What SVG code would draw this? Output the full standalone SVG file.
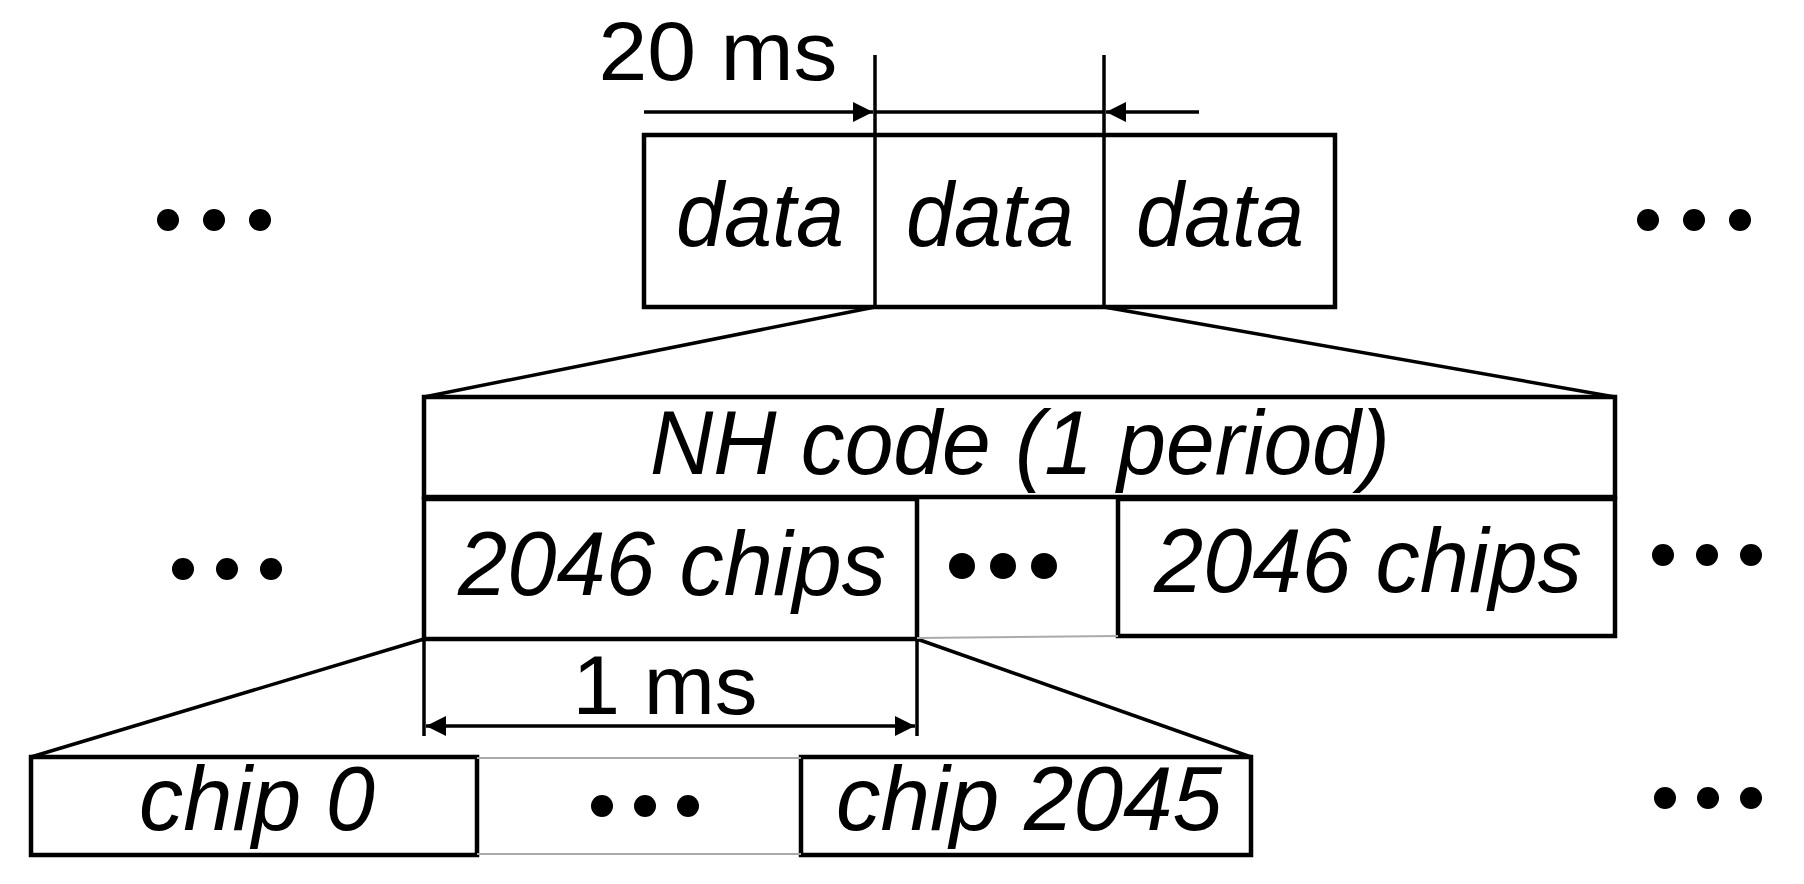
<svg xmlns="http://www.w3.org/2000/svg" width="1804" height="884" viewBox="0 0 1804 884">
<style>
.b{fill:none;stroke:#000;stroke-width:4.5}
.l{stroke:#000;stroke-width:3.5;fill:none}
.g{stroke:#aaa;stroke-width:2}
text{font-family:"Liberation Sans",Arial,sans-serif;font-style:italic;font-size:90px;text-anchor:middle;fill:#000}
.n{font-style:normal;font-size:84px}
.d{fill:#000}
</style>
<defs>
<marker id="a" viewBox="0 0 10 10" refX="10" refY="5" markerWidth="24" markerHeight="20" markerUnits="userSpaceOnUse" orient="auto-start-reverse"><path d="M0,0L10,5L0,10z" fill="#000"/></marker>
</defs>
<rect width="1804" height="884" fill="#fff"/>
<g id="data-row">
<rect class="b" x="644" y="135" width="691" height="172"/>
<line class="l" x1="875" y1="55" x2="875" y2="307"/>
<line class="l" x1="1104" y1="55" x2="1104" y2="307"/>
<text x="760" y="246" textLength="168" lengthAdjust="spacingAndGlyphs">data</text>
<text x="990" y="246" textLength="168" lengthAdjust="spacingAndGlyphs">data</text>
<text x="1220" y="246" textLength="168" lengthAdjust="spacingAndGlyphs">data</text>
</g>
<g id="nh">
<rect class="b" x="424" y="397" width="1191" height="100"/>
<text x="1020" y="474" textLength="740" lengthAdjust="spacingAndGlyphs">NH code (1 period)</text>
</g>
<g id="chips1">
<rect class="b" x="424" y="499" width="493" height="140"/>
<text x="672" y="595" textLength="428" lengthAdjust="spacingAndGlyphs">2046 chips</text>
</g>
<g id="chips2">
<rect class="b" x="1118" y="499" width="497" height="137"/>
<text x="1368" y="592" textLength="428" lengthAdjust="spacingAndGlyphs">2046 chips</text>
</g>
<g id="chip0">
<rect class="b" x="31" y="757" width="446" height="98"/>
<text x="257" y="830" textLength="236" lengthAdjust="spacingAndGlyphs">chip 0</text>
</g>
<g id="chip2045">
<rect class="b" x="801" y="757" width="450" height="98"/>
<text x="1029" y="830" textLength="386" lengthAdjust="spacingAndGlyphs">chip 2045</text>
</g>
<g id="dots">
<circle class="d" cx="168" cy="220" r="11"/><circle class="d" cx="214" cy="220" r="11"/><circle class="d" cx="260" cy="220" r="11"/>
<circle class="d" cx="1648" cy="220" r="11"/><circle class="d" cx="1694" cy="220" r="11"/><circle class="d" cx="1740" cy="220" r="11"/>
<circle class="d" cx="183" cy="569" r="11"/><circle class="d" cx="227" cy="569" r="11"/><circle class="d" cx="271" cy="569" r="11"/>
<circle class="d" cx="962" cy="566" r="13"/><circle class="d" cx="1003" cy="566" r="13"/><circle class="d" cx="1044" cy="566" r="13"/>
<circle class="d" cx="1663" cy="555" r="11"/><circle class="d" cx="1707" cy="555" r="11"/><circle class="d" cx="1751" cy="555" r="11"/>
<circle class="d" cx="602" cy="806" r="11"/><circle class="d" cx="645" cy="806" r="11"/><circle class="d" cx="688" cy="806" r="11"/>
<circle class="d" cx="1665" cy="798" r="11"/><circle class="d" cx="1708" cy="798" r="11"/><circle class="d" cx="1751" cy="798" r="11"/>
</g>
<g id="connectors">
<line class="l" x1="875" y1="307" x2="424" y2="397"/>
<line class="l" x1="1104" y1="307" x2="1615" y2="397"/>
<line class="l" x1="424" y1="639" x2="31" y2="757"/>
<line class="l" x1="917" y1="639" x2="1251" y2="757"/>
<line class="g" x1="917" y1="638" x2="1118" y2="636"/>
<line class="g" x1="477" y1="758" x2="801" y2="758"/>
<line class="g" x1="477" y1="854" x2="801" y2="854"/>
<line class="l" x1="644" y1="112" x2="873" y2="112" marker-end="url(#a)"/>
<line class="l" x1="875" y1="112" x2="1104" y2="112"/>
<line class="l" x1="1199" y1="112" x2="1106" y2="112" marker-end="url(#a)"/>
<line class="l" x1="424" y1="639" x2="424" y2="736"/>
<line class="l" x1="917" y1="639" x2="917" y2="736"/>
<line class="l" x1="426" y1="726" x2="915" y2="726" marker-start="url(#a)" marker-end="url(#a)"/>
<text class="n" x="718" y="80" textLength="239" lengthAdjust="spacingAndGlyphs">20 ms</text>
<text class="n" x="665" y="714" textLength="185" lengthAdjust="spacingAndGlyphs">1 ms</text>
</g>
</svg>
